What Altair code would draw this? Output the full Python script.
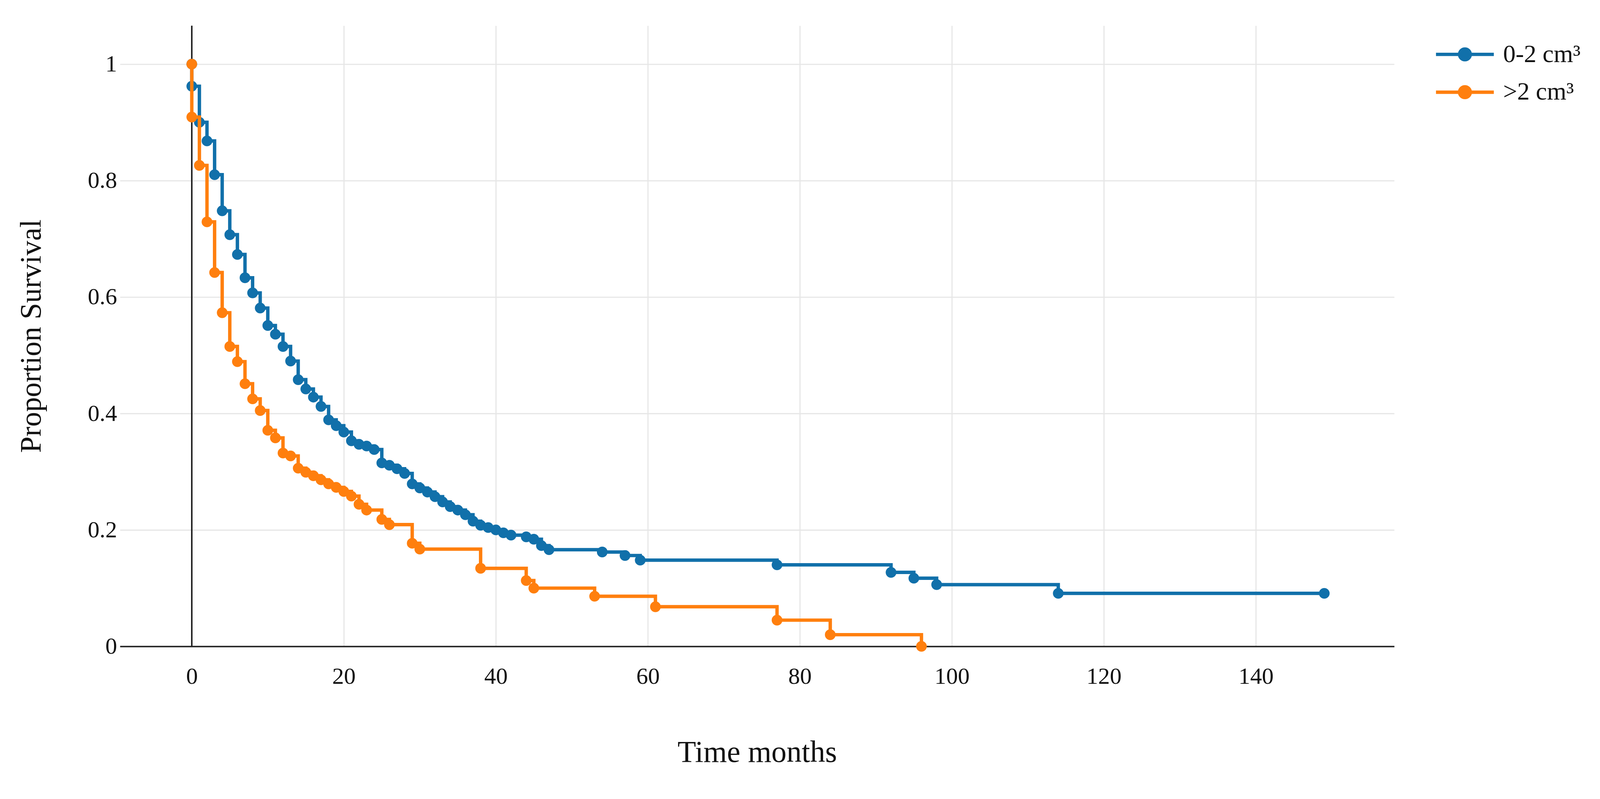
import altair as alt
import pandas as pd

# ---- data (Kaplan-Meier steps) ----
group_labels = ["0-2 cm³", ">2 cm³"]
group_colors = ["#1170aa", "#ff7f0e"]

blue_t = [0, 0, 1, 2, 3, 4, 5, 6, 7, 8, 9, 10, 11, 12, 13, 14, 15, 16, 17, 18, 19,
          20, 21, 22, 23, 24, 25, 26, 27, 28, 29, 30, 31, 32, 33, 34, 35, 36, 37, 38,
          39, 40, 41, 42, 44, 45, 46, 47, 54, 57, 59, 77, 92, 95, 98, 114, 149]
blue_s = [1.0, 0.962, 0.900, 0.868, 0.810, 0.748, 0.707, 0.673, 0.633, 0.607, 0.581,
          0.551, 0.536, 0.515, 0.490, 0.458, 0.442, 0.428, 0.412, 0.389, 0.379,
          0.368, 0.353, 0.347, 0.344, 0.338, 0.315, 0.311, 0.305, 0.297, 0.279, 0.272,
          0.265, 0.257, 0.248, 0.240, 0.234, 0.226, 0.215, 0.208, 0.204, 0.200, 0.195,
          0.191, 0.188, 0.184, 0.173, 0.166, 0.162, 0.156, 0.148, 0.140, 0.127, 0.117,
          0.106, 0.091, 0.091]

orange_t = [0, 0, 1, 2, 3, 4, 5, 6, 7, 8, 9, 10, 11, 12, 13, 14, 15, 16, 17, 18, 19,
            20, 21, 22, 23, 25, 26, 29, 30, 38, 44, 45, 53, 61, 77, 84, 96]
orange_s = [1.0, 0.909, 0.826, 0.729, 0.642, 0.573, 0.515, 0.489, 0.451, 0.425, 0.405,
            0.371, 0.358, 0.332, 0.327, 0.306, 0.299, 0.293, 0.286, 0.279, 0.273,
            0.266, 0.258, 0.244, 0.234, 0.218, 0.209, 0.177, 0.167, 0.134, 0.113,
            0.100, 0.086, 0.068, 0.045, 0.020, 0.0]

x_ticks = [0, 20, 40, 60, 80, 100, 120, 140]
y_ticks = [0, 0.2, 0.4, 0.6, 0.8, 1]

rows = []
for i, (t, s) in enumerate(zip(blue_t, blue_s)):
    rows.append({"group": group_labels[0], "t": t, "s": s, "i": i})
for i, (t, s) in enumerate(zip(orange_t, orange_s)):
    rows.append({"group": group_labels[1], "t": t, "s": s, "i": i})
df = pd.DataFrame(rows)

FONT = "Liberation Serif"

x_enc = alt.X(
    "t:Q",
    scale=alt.Scale(domain=[-9.45, 158.2], nice=False, zero=False),
    axis=alt.Axis(
        values=x_ticks, title="Time months", grid=True, gridColor="#e6e6e6",
        gridWidth=3, ticks=False, domain=True, domainColor="#222222",
        domainWidth=4, labelFont=FONT, labelFontSize=62, labelColor="#111111",
        labelPadding=50, titleFont=FONT, titleFontSize=80, titleFontWeight="normal",
        titleColor="#111111", titleX=1685, titleY=305, titleBaseline="alphabetic",
        titleAlign="center",
    ),
)
y_enc = alt.Y(
    "s:Q",
    scale=alt.Scale(domain=[0, 1.066], nice=False, zero=False),
    axis=alt.Axis(
        values=y_ticks, format="~g", title="Proportion Survival", grid=True,
        gridColor="#e6e6e6", gridWidth=3, ticks=False, domain=False,
        labelFont=FONT, labelFontSize=62, labelColor="#111111", labelPadding=8,
        titleFont=FONT, titleFontSize=78, titleFontWeight="normal",
        titleColor="#111111", titleX=-210, titleY=821, titleBaseline="alphabetic",
        titleAlign="center", titleAngle=270,
    ),
)

legend = alt.Legend(
    title=None, orient="none", legendX=3514, legendY=33,
    symbolType="M-2,0H2M-0.37,0A0.37,0.37 0 1,0 0.37,0A0.37,0.37 0 1,0 -0.37,0Z",
    symbolSize=5852, symbolStrokeWidth=9, labelFont=FONT, labelFontSize=66,
    labelColor="#111111", labelOffset=58, rowPadding=24, padding=0, labelLimit=0,
)
stroke_enc = alt.Stroke("group:N", scale=alt.Scale(domain=group_labels, range=group_colors), legend=legend)
fill_enc = alt.Fill("group:N", scale=alt.Scale(domain=group_labels, range=group_colors), legend=legend)

zero_df = pd.DataFrame({"t": [0]})
zero_rule = alt.Chart(zero_df).mark_rule(color="#222222", strokeWidth=4).encode(x=x_enc)

layers = [zero_rule]
for g in group_labels:
    base = alt.Chart(df).transform_filter(alt.datum.group == g)
    line = base.mark_line(interpolate="step-after", strokeWidth=9).encode(
        x=x_enc, y=y_enc, stroke=stroke_enc, order=alt.Order("i:Q"))
    pts = base.mark_circle(size=800, opacity=1).encode(
        x=x_enc, y=y_enc, fill=fill_enc)
    layers += [line, pts]

chart = alt.layer(*layers).properties(
    width=3370, height=1642,
    autosize=alt.AutoSizeParams(type="none"),
    padding={"left": 309, "top": 26, "right": 536, "bottom": 362},
    background="white",
).configure_view(stroke=None)

chart.save("out.html", embed_options={"renderer": "svg", "actions": False})
